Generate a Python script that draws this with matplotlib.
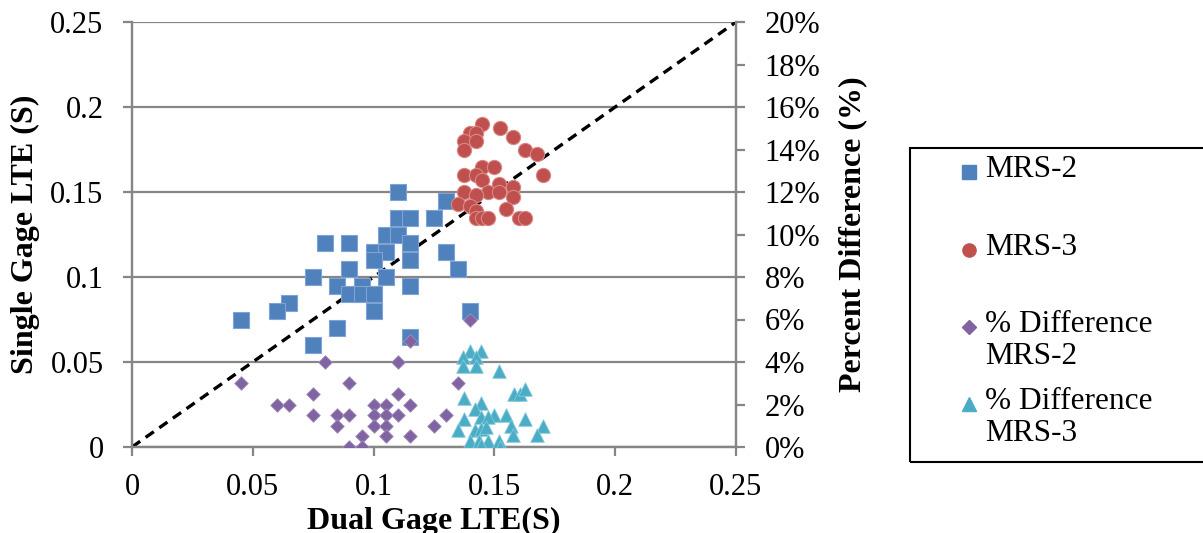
import matplotlib.pyplot as plt
from matplotlib.ticker import FuncFormatter, MultipleLocator
from matplotlib.lines import Line2D
from matplotlib.patches import Rectangle

plt.rcParams['font.family'] = ['Liberation Serif', 'DejaVu Serif']

# MRS-2: dual vs single gage LTE
mrs2_x = [0.110, 0.130, 0.110, 0.115, 0.125, 0.105, 0.110, 0.115, 0.080, 0.090,
          0.100, 0.105, 0.100, 0.115, 0.130, 0.090, 0.075, 0.105, 0.085, 0.095,
          0.115, 0.090, 0.095, 0.100, 0.065, 0.060, 0.100, 0.045, 0.085, 0.075,
          0.115, 0.135, 0.140]
mrs2_y = [0.150, 0.145, 0.135, 0.135, 0.135, 0.125, 0.125, 0.120, 0.120, 0.120,
          0.115, 0.115, 0.110, 0.110, 0.115, 0.105, 0.100, 0.100, 0.095, 0.095,
          0.095, 0.090, 0.090, 0.090, 0.085, 0.080, 0.080, 0.075, 0.070, 0.060,
          0.065, 0.105, 0.080]

# MRS-3
mrs3_x = [0.145, 0.1525, 0.140, 0.1425, 0.1375, 0.1425, 0.1575, 0.1375, 0.1625,
          0.1675, 0.145, 0.150, 0.1375, 0.1425, 0.170, 0.145, 0.152, 0.1575,
          0.1375, 0.1475, 0.1425, 0.152, 0.1575, 0.135, 0.140, 0.1425, 0.155,
          0.1425, 0.145, 0.1475, 0.160, 0.1625]
mrs3_y = [0.190, 0.1875, 0.185, 0.185, 0.180, 0.180, 0.1825, 0.175, 0.175,
          0.1725, 0.165, 0.165, 0.160, 0.160, 0.160, 0.157, 0.155, 0.153,
          0.150, 0.150, 0.148, 0.150, 0.147, 0.143, 0.142, 0.139, 0.140,
          0.135, 0.135, 0.135, 0.135, 0.135]

# % difference MRS-2
diff2_x = [0.045, 0.060, 0.065, 0.075, 0.075, 0.080, 0.085, 0.085, 0.090, 0.090,
           0.090, 0.095, 0.095, 0.100, 0.100, 0.100, 0.105, 0.105, 0.105, 0.105,
           0.110, 0.110, 0.110, 0.115, 0.115, 0.115, 0.125, 0.130, 0.135, 0.140]
diff2_pct = [0.030, 0.020, 0.020, 0.025, 0.015, 0.040, 0.015, 0.010, 0.030, 0.015,
             0.000, 0.005, 0.000, 0.020, 0.015, 0.010, 0.020, 0.015, 0.010, 0.005,
             0.040, 0.025, 0.015, 0.020, 0.005, 0.050, 0.010, 0.015, 0.030, 0.060]

# % difference MRS-3
diff3_x = [0.140, 0.1445, 0.137, 0.1425, 0.137, 0.1425, 0.152, 0.158, 0.1605,
           0.1625, 0.1375, 0.1445, 0.142, 0.150, 0.155, 0.1625, 0.1375, 0.1445,
           0.1475, 0.157, 0.170, 0.135, 0.142, 0.1445, 0.1465, 0.1575, 0.1675,
           0.140, 0.1435, 0.1475, 0.152, 0.1525, 0.1445]
diff3_pct = [0.045, 0.045, 0.0425, 0.0425, 0.038, 0.038, 0.036, 0.025, 0.025,
             0.0275, 0.023, 0.0205, 0.018, 0.015, 0.015, 0.013, 0.013, 0.014,
             0.014, 0.010, 0.010, 0.008, 0.008, 0.0085, 0.0095, 0.0055, 0.0055,
             0.003, 0.003, 0.003, 0.003, 0.000, 0.001]

series_names = ['MRS-2', 'MRS-3', '% Difference\nMRS-2', '% Difference\nMRS-3']

blue = '#4F81BD'
red = '#C0504D'
purple = '#8064A2'
cyan = '#4BACC6'
grid = '#868686'

W, H = 1203, 533
fig = plt.figure(figsize=(W / 100, H / 100), dpi=100)
ax = fig.add_axes([132 / W, 86 / H, 604 / W, 425 / H])
ax2 = ax.twinx()

ax.set_xlim(0, 0.25)
ax.set_ylim(0, 0.25)
ax2.set_ylim(0, 0.20)
ax.xaxis.set_major_locator(MultipleLocator(0.05))
ax.yaxis.set_major_locator(MultipleLocator(0.05))
ax2.yaxis.set_major_locator(MultipleLocator(0.02))

fmt = lambda v, p: '0' if abs(v) < 1e-9 else ('%.2f' % v).rstrip('0')
ax.xaxis.set_major_formatter(FuncFormatter(fmt))
ax.yaxis.set_major_formatter(FuncFormatter(fmt))
ax2.yaxis.set_major_formatter(FuncFormatter(lambda v, p: '%d%%' % round(v * 100)))

ax.grid(axis='y', color=grid, lw=1.6)
ax.set_axisbelow(True)
for a in (ax, ax2):
    for s in a.spines.values():
        s.set_color(grid)
        s.set_linewidth(1.6)
    a.spines['top'].set_visible(False)
    a.tick_params(colors=grid, labelcolor='black', labelsize=22, width=1.6,
                  length=6.5, pad=14)
ax.tick_params(axis='x', pad=12)

ax.plot([0, 0.25], [0, 0.25], color='black', ls=(0, (3, 2)), lw=2.4, zorder=2)

ax.scatter(mrs2_x, mrs2_y, marker='s', s=125, color=blue, edgecolor='#7fa4d3',
           lw=0.8, zorder=3)
ax.scatter(mrs3_x, mrs3_y, marker='o', s=105, color=red, edgecolor='#d88886',
           lw=0.8, zorder=3)
ax2.scatter(diff2_x, diff2_pct, marker='D', s=48, color=purple, edgecolor='#a48fc0',
            lw=0.6, zorder=4)
ax2.scatter(diff3_x, diff3_pct, marker='^', s=95, color=cyan, edgecolor='#83c9db',
            lw=0.6, zorder=4)

ax.set_xlabel('Dual Gage LTE(S)', fontsize=23, fontweight='bold')
ax.set_ylabel('Single Gage LTE (S)', fontsize=23, fontweight='bold')
ax2.set_ylabel('Percent Difference (%)', fontsize=23, fontweight='bold')
ax.xaxis.set_label_coords(0.5, -0.14)
ax.yaxis.set_label_coords(-0.152, 0.5)
ax2.yaxis.set_label_coords(1.169, 0.5)

# legend box, cut by the right edge of the picture
fig.patches.append(Rectangle((910 / W, 71 / H), 320 / W, 314 / H,
                             transform=fig.transFigure, fill=False,
                             edgecolor='black', lw=1.5, clip_on=False))
leg_markers = [('s', 9.5, blue), ('o', 9.5, red), ('D', 7, purple), ('^', 9.5, cyan)]
leg_rows = [172, 250, 327, 404]
for (m, ms, c), row, name in zip(leg_markers, leg_rows, series_names):
    fig.add_artist(Line2D([969 / W], [1 - row / H], transform=fig.transFigure,
                          ls='', marker=m, ms=ms, color=c))
    fig.text(985 / W, 1 - (row - 17) / H, name, fontsize=22.5, va='top',
             linespacing=1.12)

fig.savefig('out.png', dpi=100)
